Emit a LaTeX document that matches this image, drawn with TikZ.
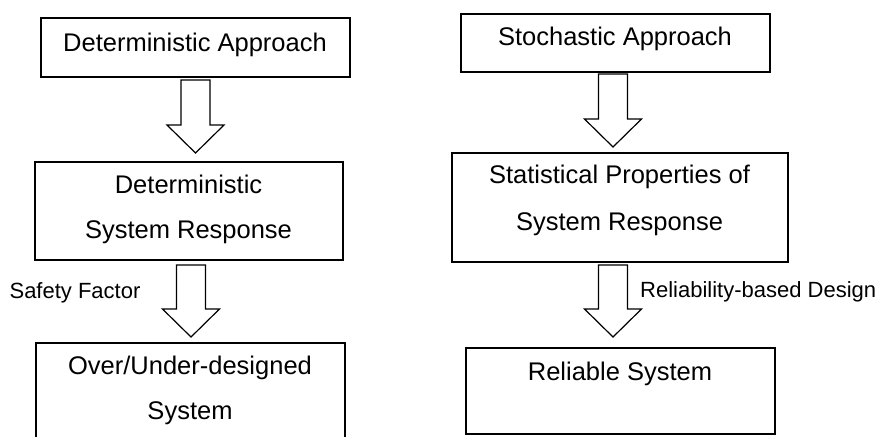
\documentclass[tikz,border=0pt]{standalone}
\usepackage{fontspec}
\setmainfont{Liberation Sans}
\usepackage{tikz}
\usetikzlibrary{calc, positioning}

\tikzset{
    box/.style={draw, line width=1.6pt, inner sep=0pt},
    boxtext/.style={anchor=base, inner sep=0pt, font=\fontsize{25.5}{30}\selectfont},
    sidetext/.style={anchor=base, inner sep=0pt, font=\fontsize{22}{26}\selectfont},
    fatarrow/.style={draw, line width=1.2pt, fill=white, line join=miter}
}

% block arrow from top coordinate to tip coordinate
\newcommand{\fatarrow}[2]{%
    \draw[fatarrow] ($(#1)+(-14.5,0)$) -- ($(#1)+(14.5,0)$) -- ($(#2)+(14.5,-28)$)
        -- ($(#2)+(28.5,-28)$) -- (#2) -- ($(#2)+(-28.5,-28)$) -- ($(#2)+(-14.5,-28)$) -- cycle;}

\begin{document}
\begin{tikzpicture}[x=1pt, y=-1pt]
    \useasboundingbox (0,0) rectangle (877,437);

    % Boxes, left
    \node[box, minimum width=309, minimum height=59] (det) at (195.5,47.5) {};
    \node[box, minimum width=308, minimum height=98] (detresp) at (189,211) {};
    \node[minimum width=309, minimum height=94, inner sep=0pt] (over) at (190.5,390) {};
    \draw[line width=1.6pt] (over.south west) -- (over.north west) -- (over.north east) -- (over.south east);

    % Boxes, right
    \node[box, minimum width=309, minimum height=58] (sto) at (615.5,43) {};
    \node[box, minimum width=336, minimum height=109] (statresp) at (620,207.5) {};
    \node[box, minimum width=309, minimum height=86] (rel) at (620.5,391) {};

    % Texts
    \node[boxtext] (detT) at (195,51) {Deterministic Approach};
    \node[boxtext] (detrespT1) at (188.5,193) {Deterministic};
    \node[boxtext] (detrespT2) at (188.5,238) {System Response};
    \node[boxtext] (overT1) at (190,374) {Over/Under-designed};
    \node[boxtext] (overT2) at (190,419) {System};
    \node[boxtext] (stoT) at (615,45) {Stochastic Approach};
    \node[boxtext] (statrespT1) at (619.5,183) {Statistical Properties of};
    \node[boxtext] (statrespT2) at (619.5,230) {System Response};
    \node[boxtext] (relT) at (620,380) {Reliable System};

    % Arrow labels
    \node[sidetext] (safety) at (75,298) {Safety Factor};
    \node[sidetext, anchor=base west] (reldes) at (640,297) {Reliability-based Design};

    % Block arrows
    \coordinate (a1t) at (195.5,80);  \coordinate (a1h) at (195.5,153);
    \coordinate (a2t) at (191,265);   \coordinate (a2h) at (191,337);
    \coordinate (a3t) at (613,74);    \coordinate (a3h) at (613,147);
    \coordinate (a4t) at (613,265);   \coordinate (a4h) at (613,337);
    \fatarrow{a1t}{a1h}
    \fatarrow{a2t}{a2h}
    \fatarrow{a3t}{a3h}
    \fatarrow{a4t}{a4h}
\end{tikzpicture}
\end{document}
